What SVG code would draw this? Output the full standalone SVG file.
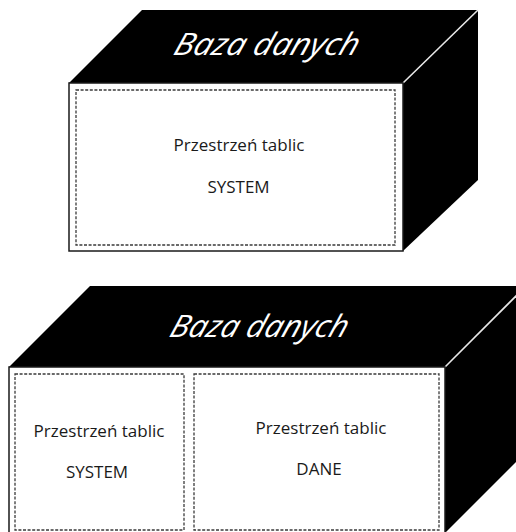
<svg xmlns="http://www.w3.org/2000/svg" width="516" height="532" viewBox="0 0 516 532">
  <style>
    .face { fill: #000; }
    .front { fill: #fff; stroke: #1a1a1a; stroke-width: 1.5; }
    .edge { stroke: #e8e8e8; stroke-width: 1.6; fill: none; }
    .ts { fill: none; stroke: #3a3a3a; stroke-width: 1.3; stroke-dasharray: 3 1.6; }
    .lbl { font-family: "Open Sans", "Liberation Sans", sans-serif; font-size: 17px; fill: #1a1a1a; text-anchor: middle; }
    .db { font-family: "Open Sans", "Liberation Sans", sans-serif; font-style: italic; font-size: 31px; fill: #fff; }
  </style>
  <rect width="516" height="532" fill="#fff"/>

  <g id="db1">
    <polygon class="face" points="69,83 142,10 478,10 403,83"/>
    <polygon class="face" points="403,83 478,10 478,180 403,251"/>
    <line class="edge" x1="403" y1="83" x2="478" y2="10"/>
    <rect class="front" x="69" y="83" width="334" height="168"/>
    <g transform="translate(172,55) skewX(-18)">
      <text class="db" x="0" y="0" textLength="184" lengthAdjust="spacingAndGlyphs">Baza danych</text>
    </g>
    <g id="db1-system">
      <rect class="ts" x="76" y="90" width="319" height="155"/>
      <text class="lbl" x="239" y="150.5">Przestrzeń tablic</text>
      <text class="lbl" x="238.5" y="193">SYSTEM</text>
    </g>
  </g>

  <g id="db2">
    <polygon class="face" points="9,367 90,286 526,286 445,367"/>
    <polygon class="face" points="445,367 526,286 526,452 445,533"/>
    <line class="edge" x1="445" y1="367" x2="526" y2="286"/>
    <rect class="front" x="9" y="367" width="436" height="170"/>
    <g transform="translate(168,337) skewX(-18)">
      <text class="db" x="0" y="0" textLength="177" lengthAdjust="spacingAndGlyphs">Baza danych</text>
    </g>
    <g id="db2-system">
      <rect class="ts" x="15" y="374" width="169" height="156"/>
      <text class="lbl" x="99" y="437">Przestrzeń tablic</text>
      <text class="lbl" x="97" y="478">SYSTEM</text>
    </g>
    <g id="db2-dane">
      <rect class="ts" x="194" y="374" width="245" height="156"/>
      <text class="lbl" x="321" y="433.5">Przestrzeń tablic</text>
      <text class="lbl" x="319" y="475">DANE</text>
    </g>
  </g>

  <g id="connectors"/>
</svg>
